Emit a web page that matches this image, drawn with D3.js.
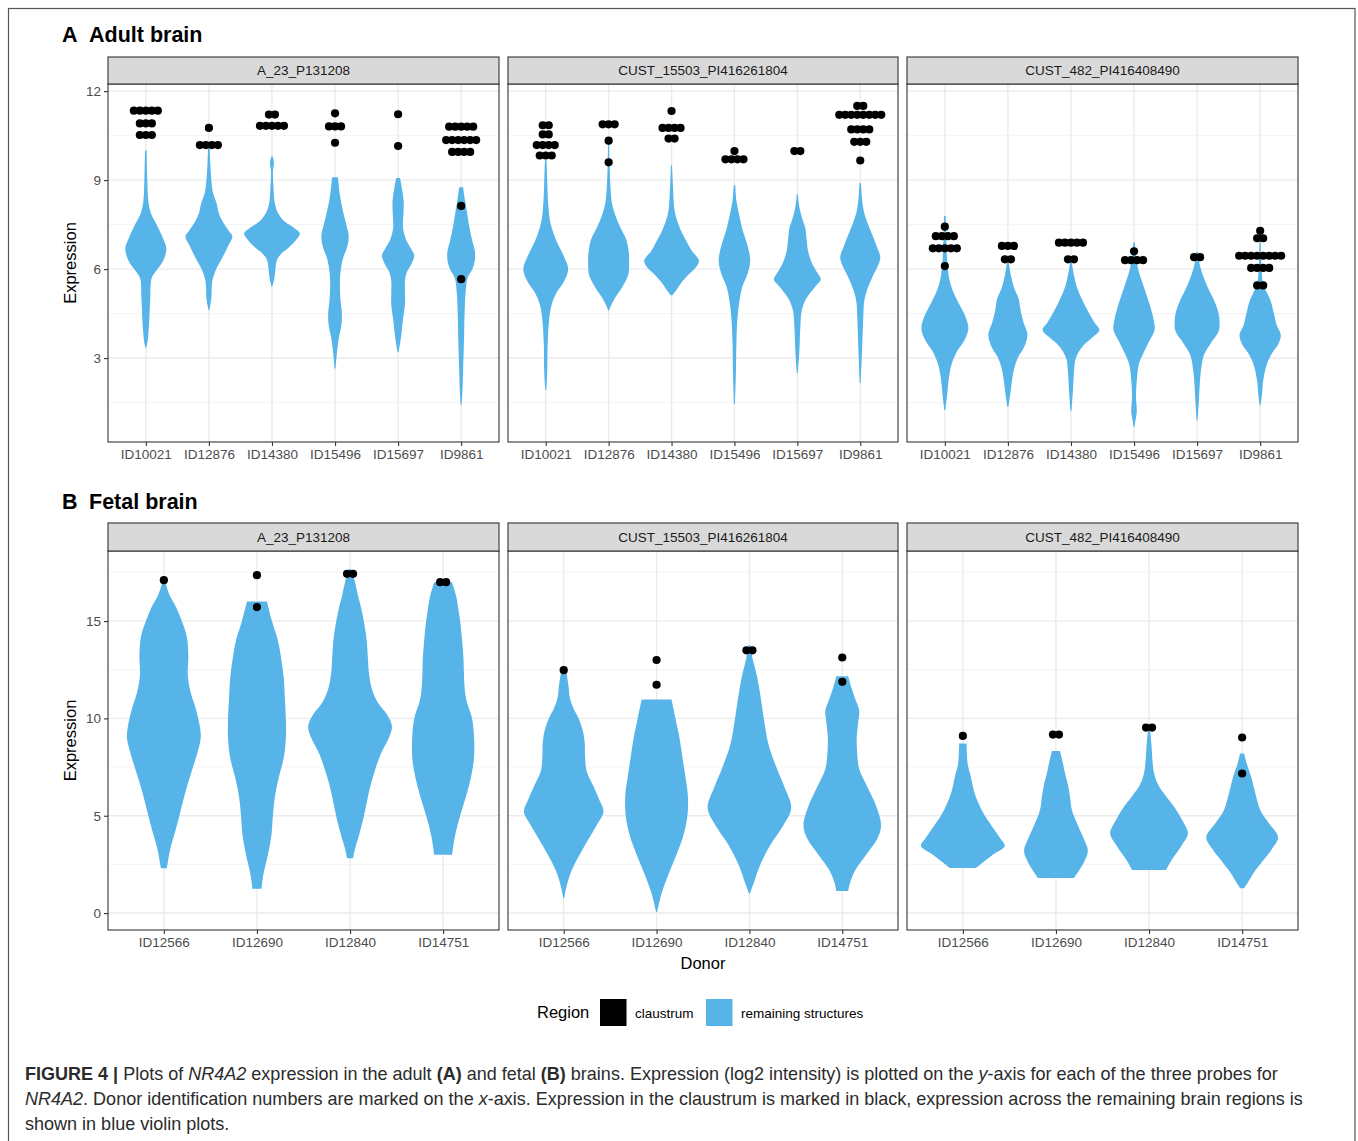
<!DOCTYPE html>
<html>
<head>
<meta charset="utf-8">
<script src="https://cdn.jsdelivr.net/npm/d3@7"></script>
<style>
  body { margin: 0; background: #fff; }
  svg { display: block; font-family: "Liberation Sans", Arial, Helvetica, sans-serif; }
</style>
</head>
<body>
<script>
// ---------------- data ----------------
const probes = ["A_23_P131208", "CUST_15503_PI416261804", "CUST_482_PI416408490"];
const adultDonors = ["ID10021", "ID12876", "ID14380", "ID15496", "ID15697", "ID9861"];
const fetalDonors = ["ID12566", "ID12690", "ID12840", "ID14751"];

const adultTicks = [3, 6, 9, 12];
const adultMinorTicks = [1.5, 4.5, 7.5, 10.5];
const fetalTicks = [0, 5, 10, 15];
const fetalMinorTicks = [2.5, 7.5, 12.5, 17.5];
const adultRange = [0.17, 12.24];
const fetalRange = [-0.87, 18.6];

// Violin profiles for the remaining structures: [expression, density (arb. units)]
const adultP1Violins = [
  [[10.0,0.8],[9.0,1.5],[8.3,2.5],[7.9,5],[7.5,11],[7.0,18],[6.7,21],[6.3,18],[6.0,12],[5.7,6],[5.0,4.5],[4.0,3],[3.5,1.5],[3.35,0.3]],
  [[10.1,0.8],[9.5,1.5],[9.0,2.5],[8.6,4],[8.2,8],[7.9,10],[7.6,14],[7.3,20],[7.1,24],[6.8,20],[6.4,14],[6.0,7.5],[5.6,3.5],[5.0,2.5],[4.6,0.3]],
  [[9.8,0.5],[9.6,2],[9.3,1],[8.8,1.5],[8.2,3],[7.9,6],[7.6,13],[7.4,22],[7.2,28.5],[7.0,25],[6.75,18],[6.5,9],[6.3,5],[6.0,3.5],[5.7,2.5],[5.4,0.3]],
  [[9.1,3],[8.5,5],[7.9,8.5],[7.5,11.5],[7.1,14],[6.7,12],[6.4,8.5],[6.0,6],[5.6,5],[5.0,5.5],[4.5,7],[4.1,6.5],[3.7,4],[3.2,2],[2.65,0.5]],
  [[9.07,2],[8.7,4],[8.3,5.7],[7.9,5.5],[7.4,5],[7.0,8],[6.7,13],[6.45,16.5],[6.2,14],[5.9,9],[5.6,7],[5.2,7],[4.8,7],[4.3,5],[3.7,3],[3.2,0.5]],
  [[8.76,2],[8.3,4],[7.9,6],[7.4,8.5],[7.0,11],[6.6,14],[6.3,14],[6.0,11.5],[5.7,6.5],[5.2,4.5],[4.5,3.5],[3.7,3],[2.6,2],[2.0,1.5],[1.42,0.5]]
];
const adultP2Violins = [
  [[9.67,0.8],[9.0,1.5],[8.2,2.5],[7.6,4.5],[7.2,8],[6.8,13],[6.4,19],[6.0,23],[5.6,19],[5.2,11],[4.8,6],[4.3,3.5],[3.5,2],[2.5,1.5],[1.92,0.5]],
  [[10.25,0.5],[9.5,1],[8.7,2],[8.2,3.5],[7.8,7],[7.4,12],[7.0,18],[6.6,20.5],[6.2,21],[5.8,20],[5.4,14],[5.0,6],[4.7,1.5],[4.6,0.3]],
  [[9.5,0.5],[8.8,1.5],[8.0,3],[7.6,6],[7.2,11],[6.9,16],[6.6,21],[6.3,28],[6.1,26],[5.8,17],[5.5,9],[5.25,4],[5.12,1]],
  [[8.83,0.8],[8.3,2],[7.8,5],[7.3,8.5],[6.9,12.5],[6.5,15.5],[6.2,16],[5.8,13],[5.4,8],[4.9,5],[4.3,3],[3.5,2],[2.5,1.5],[1.45,0.5]],
  [[8.53,0.5],[8.1,2],[7.7,5],[7.4,8],[7.0,9.5],[6.6,11],[6.2,15],[5.9,20],[5.65,24],[5.4,18],[5.0,9],[4.6,4.5],[4.0,3],[3.2,2],[2.5,0.5]],
  [[8.89,0.8],[8.3,2],[7.9,4],[7.5,8],[7.1,13],[6.75,17],[6.4,20.5],[6.1,18],[5.7,12],[5.3,7],[4.9,4],[4.3,3],[3.4,2],[2.16,0.5]]
];
const adultP3Violins = [
  [[7.79,0.8],[7.0,1.5],[6.2,2.5],[5.6,5],[5.2,9],[4.8,15],[4.4,21],[4.0,24],[3.6,20],[3.2,12],[2.8,7],[2.3,4],[1.8,2.5],[1.25,0.5]],
  [[6.24,0.8],[5.8,3],[5.4,6],[5.0,11],[4.6,13],[4.2,16],[3.8,20],[3.4,17],[3.0,10],[2.6,6],[2.2,4],[1.8,2.5],[1.35,0.5]],
  [[6.24,0.8],[5.8,3],[5.4,6],[5.0,11],[4.6,17],[4.2,24],[3.95,29],[3.7,22],[3.4,12],[3.0,5],[2.5,3],[1.9,2],[1.22,0.5]],
  [[6.9,0.8],[6.4,2],[5.9,5],[5.5,9],[5.1,13],[4.7,17],[4.3,20],[3.95,21],[3.6,16],[3.2,10],[2.8,5],[2.3,3],[1.7,2],[1.2,2.8],[0.9,1.5],[0.67,0.5]],
  [[6.58,0.8],[6.1,3],[5.7,7],[5.3,12],[4.9,18],[4.5,22],[4.2,23],[3.9,22],[3.5,14],[3.1,7],[2.6,4],[2.0,2.5],[1.4,1.5],[0.9,0.5]],
  [[7.1,0.5],[6.0,1.5],[5.5,3],[5.2,7],[4.9,11],[4.5,14],[4.1,17],[3.8,21],[3.5,19],[3.1,11],[2.7,6],[2.2,3],[1.8,2],[1.42,0.5]]
];
const fetalP1Violins = [
  [[17.0,1.5],[16.3,6],[15.7,12.5],[15.0,18],[14.2,23],[13.2,24.5],[12.2,24],[11.3,27],[10.5,32],[9.6,36],[9.0,37],[8.3,34],[7.3,28],[6.3,22],[5.3,17],[4.3,12],[3.3,6.5],[2.3,3]],
  [[16.0,10],[15.0,15],[14.0,21],[13.0,24.5],[12.0,27],[11.0,28],[10.0,29],[9.0,29],[8.0,27],[7.0,22],[6.0,18],[5.0,16],[4.0,14.5],[3.0,11],[2.0,6.5],[1.25,4.5]],
  [[17.67,1],[17.0,5],[16.3,8],[15.7,11],[14.8,14.5],[14.0,16.7],[13.0,18],[12.3,19],[11.5,22],[10.8,28],[10.2,37],[9.6,42],[9.0,39],[8.2,31],[7.0,23],[6.0,18],[5.0,14],[4.0,9],[3.3,5],[2.82,3]],
  [[17.0,9],[16.3,13],[15.7,15],[15.0,17],[14.0,19],[13.0,20.5],[12.0,21],[11.0,23],[10.0,29],[9.0,31],[8.0,31],[7.0,28],[6.0,23],[5.0,17],[4.0,12],[3.0,9]]
];
const fetalP2Violins = [
  [[12.3,3],[11.6,5],[11.1,6],[10.5,10],[10.0,15],[9.4,19],[8.8,21],[8.0,21.5],[7.3,23],[6.5,30],[5.8,36],[5.2,40],[4.5,33],[3.8,25],[3.0,16],[2.2,8],[1.4,3],[0.77,0.5]],
  [[10.97,15],[10.0,19],[9.0,23],[8.0,26],[7.0,29],[6.0,31.5],[5.0,31],[4.0,27],[3.0,20],[2.0,12],[1.0,5],[0.05,0.5]],
  [[13.76,1],[13.0,3.5],[12.3,7],[11.5,10],[10.5,13],[9.5,16],[8.6,19.5],[7.5,27],[6.5,35],[5.4,42],[4.5,34],[3.5,21],[2.5,11],[1.5,4],[1.0,0.5]],
  [[12.17,6],[11.6,9],[11.0,13],[10.4,17],[9.8,16],[9.0,14.5],[8.2,15],[7.4,17],[6.5,25],[5.5,34],[4.5,39],[3.8,35],[3.0,24],[2.2,13],[1.5,7.5],[1.13,6]]
];
const fetalP3Violins = [
  [[8.71,3.7],[8.2,4],[7.6,5],[7.0,8],[6.3,11],[5.6,16],[5.0,22],[4.4,30],[3.8,38],[3.45,42],[3.0,30],[2.6,20],[2.31,13]],
  [[8.33,4],[7.7,7],[7.2,9],[6.6,12],[6.0,14],[5.3,16],[4.5,22],[3.8,28],[3.2,32],[2.6,28],[2.1,22],[1.8,18]],
  [[9.4,1],[8.6,2.5],[7.8,3.5],[7.2,5],[6.6,9],[6.0,17],[5.4,26],[4.8,33],[4.1,39],[3.5,33],[2.9,25],[2.5,20],[2.21,17]],
  [[8.2,2],[7.6,5],[7.0,9],[6.4,12],[5.8,15],[5.2,19],[4.6,27],[3.9,36],[3.3,30],[2.7,21],[2.1,12],[1.6,6],[1.28,2]]
];

// Claustrum samples, binned: [expression, number of samples in the bin]
const adultP1Claustrum = [
  [[11.34,5],[10.91,3],[10.52,3]],
  [[10.76,1],[10.18,4]],
  [[11.21,2],[10.83,5]],
  [[11.25,1],[10.81,3],[10.26,1]],
  [[11.22,1],[10.15,1]],
  [[10.8,5],[10.35,6],[9.95,4],[8.13,1],[5.66,1]]
];
const adultP2Claustrum = [
  [[10.85,2],[10.54,2],[10.18,4],[9.83,3]],
  [[10.88,3],[10.33,1],[9.6,1]],
  [[11.33,1],[10.76,4],[10.4,2]],
  [[9.98,1],[9.7,4]],
  [[9.98,2]],
  [[11.5,2],[11.2,8],[10.71,4],[10.29,3],[9.66,1]]
];
const adultP3Claustrum = [
  [[7.43,1],[7.11,4],[6.7,5],[6.1,1]],
  [[6.78,3],[6.33,2]],
  [[6.89,5],[6.33,2]],
  [[6.6,1],[6.3,4]],
  [[6.4,2]],
  [[7.29,1],[7.04,2],[6.45,8],[6.04,4],[5.45,2]]
];
const fetalP1Claustrum = [[[17.1,1]], [[17.36,1],[15.72,1]], [[17.43,2]], [[17.0,2]]];
const fetalP2Claustrum = [[[12.48,1]], [[13.0,1],[11.73,1]], [[13.5,2]], [[13.13,1],[11.88,1]]];
const fetalP3Claustrum = [[[9.1,1]], [[9.17,2]], [[9.53,2]], [[9.02,1],[7.17,1]]];

const regionLabels = ["claustrum", "remaining structures"];

// ---------------- styling / layout ----------------
const W = 1358, H = 1141;
const BLUE = "#56B4E9";
const FONT = '"Liberation Sans", Arial, Helvetica, sans-serif';
const facetSpans = [[108, 499], [508, 898], [907, 1298]];
const dotR = 4.1, dotStep = 6;

const svg = d3.select("body").append("svg")
  .attr("width", W).attr("height", H)
  .attr("font-family", FONT);

svg.append("rect").attr("width", W).attr("height", H).attr("fill", "#fff");
// figure frame
svg.append("rect")
  .attr("x", 8.5).attr("y", 8.5).attr("width", 1346.5).attr("height", 1200)
  .attr("fill", "none").attr("stroke", "#555").attr("stroke-width", 1.2);

function drawSection(o) {
  const y = d3.scaleLinear().domain(o.yDomain).range([o.plotBottom, o.plotTop]);

  // section heading
  const head = svg.append("text").attr("y", o.titleY)
    .attr("font-size", 21.5).attr("font-weight", "bold").attr("fill", "#000");
  head.append("tspan").attr("x", 62).text(o.letter);
  head.append("tspan").attr("x", 89).text(o.name);

  facetSpans.forEach(([x0, x1], i) => {
    const x = d3.scalePoint().domain(o.donors).range([x0, x1]).padding(0.6);
    const w = d3.scaleLinear().domain([0, o.densMax]).range([0, 0.45 * x.step()]);
    const g = svg.append("g");

    g.append("rect").attr("x", x0).attr("y", o.plotTop)
      .attr("width", x1 - x0).attr("height", o.plotBottom - o.plotTop).attr("fill", "#fff");

    // grid
    g.selectAll(".minor").data(o.minor).join("line")
      .attr("x1", x0).attr("x2", x1).attr("y1", d => y(d)).attr("y2", d => y(d))
      .attr("stroke", "#F2F2F2").attr("stroke-width", 0.8);
    g.selectAll(".major").data(o.ticks).join("line")
      .attr("x1", x0).attr("x2", x1).attr("y1", d => y(d)).attr("y2", d => y(d))
      .attr("stroke", "#EBEBEB").attr("stroke-width", 1.4);
    g.selectAll(".vgrid").data(o.donors).join("line")
      .attr("x1", d => x(d)).attr("x2", d => x(d)).attr("y1", o.plotTop).attr("y2", o.plotBottom)
      .attr("stroke", "#EBEBEB").attr("stroke-width", 1.4);

    // violins
    o.violins[i].forEach((prof, j) => {
      const cx = x(o.donors[j]);
      const area = d3.area()
        .curve(d3.curveCatmullRom.alpha(0.5))
        .y(d => y(d[0]))
        .x0(d => cx - w(d[1]))
        .x1(d => cx + w(d[1]));
      g.append("path").attr("d", area(prof)).attr("fill", BLUE);
    });

    // claustrum dots
    o.dots[i].forEach((bins, j) => {
      const cx = x(o.donors[j]);
      bins.forEach(([v, n]) => {
        d3.range(n).forEach(k => {
          g.append("circle")
            .attr("cx", cx + (k - (n - 1) / 2) * dotStep)
            .attr("cy", y(v)).attr("r", dotR).attr("fill", "#000");
        });
      });
    });

    // panel border
    g.append("rect").attr("x", x0).attr("y", o.plotTop)
      .attr("width", x1 - x0).attr("height", o.plotBottom - o.plotTop)
      .attr("fill", "none").attr("stroke", "#333").attr("stroke-width", 1.1);

    // strip
    g.append("rect").attr("x", x0).attr("y", o.stripTop)
      .attr("width", x1 - x0).attr("height", o.plotTop - o.stripTop)
      .attr("fill", "#D9D9D9").attr("stroke", "#333").attr("stroke-width", 1.1);
    g.append("text").attr("x", (x0 + x1) / 2).attr("y", (o.stripTop + o.plotTop) / 2)
      .attr("dy", "0.36em").attr("text-anchor", "middle")
      .attr("font-size", 13.5).attr("fill", "#1A1A1A").text(probes[i]);

    // x axis
    const xa = g.append("g").attr("transform", `translate(0,${o.plotBottom})`)
      .call(d3.axisBottom(x).tickSize(4).tickPadding(3));
    xa.select(".domain").remove();
    xa.selectAll(".tick line").attr("stroke", "#333").attr("stroke-width", 1.1);
    xa.selectAll(".tick text").attr("font-size", 13.5).attr("font-family", FONT).attr("fill", "#4D4D4D");

    if (i === 0) {
      const ya = g.append("g").attr("transform", `translate(${x0},0)`)
        .call(d3.axisLeft(y).tickValues(o.ticks).tickSize(4).tickPadding(3));
      ya.select(".domain").remove();
      ya.selectAll(".tick line").attr("stroke", "#333").attr("stroke-width", 1.1);
      ya.selectAll(".tick text").attr("font-size", 13.5).attr("font-family", FONT).attr("fill", "#4D4D4D");
    }
  });

  svg.append("text")
    .attr("transform", `translate(76,${(o.plotTop + o.plotBottom) / 2}) rotate(-90)`)
    .attr("text-anchor", "middle").attr("font-size", 16.5).attr("fill", "#000")
    .text("Expression");
}

drawSection({
  letter: "A", name: "Adult brain", titleY: 42,
  donors: adultDonors,
  violins: [adultP1Violins, adultP2Violins, adultP3Violins],
  dots: [adultP1Claustrum, adultP2Claustrum, adultP3Claustrum],
  yDomain: adultRange, ticks: adultTicks, minor: adultMinorTicks,
  stripTop: 57, plotTop: 84, plotBottom: 442, densMax: 29
});

drawSection({
  letter: "B", name: "Fetal brain", titleY: 509,
  donors: fetalDonors,
  violins: [fetalP1Violins, fetalP2Violins, fetalP3Violins],
  dots: [fetalP1Claustrum, fetalP2Claustrum, fetalP3Claustrum],
  yDomain: fetalRange, ticks: fetalTicks, minor: fetalMinorTicks,
  stripTop: 523, plotTop: 551, plotBottom: 930, densMax: 42
});

// x axis title
svg.append("text").attr("x", (facetSpans[0][0] + facetSpans[2][1]) / 2).attr("y", 969)
  .attr("text-anchor", "middle").attr("font-size", 16.5).attr("fill", "#000").text("Donor");

// legend
const legend = svg.append("g");
legend.append("text").attr("x", 537).attr("y", 1018).attr("font-size", 16.5).attr("fill", "#000").text("Region");
const keyColors = ["#000", BLUE];
const keyX = [600, 706], labelX = [635, 741];
regionLabels.forEach((lab, i) => {
  legend.append("rect").attr("x", keyX[i]).attr("y", 999).attr("width", 26.5).attr("height", 27)
    .attr("fill", keyColors[i]);
  legend.append("text").attr("x", labelX[i]).attr("y", 1017.5).attr("font-size", 13.5)
    .attr("fill", "#000").text(lab);
});

// caption
const captionLines = [
  [["FIGURE 4 |", "b"], [" Plots of ", ""], ["NR4A2", "i"], [" expression in the adult ", ""], ["(A)", "b"],
   [" and fetal ", ""], ["(B)", "b"], [" brains. Expression (log2 intensity) is plotted on the ", ""], ["y", "i"],
   ["-axis for each of the three probes for", ""]],
  [["NR4A2", "i"], [". Donor identification numbers are marked on the ", ""], ["x", "i"],
   ["-axis. Expression in the claustrum is marked in black, expression across the remaining brain regions is", ""]],
  [["shown in blue violin plots.", ""]]
];
const capBase = [1080, 1105, 1130];
const capNodes = captionLines.map((parts, li) => {
  const t = svg.append("text").attr("font-size", 18).attr("fill", "#2b2b2b")
    .style("white-space", "pre").attr("transform", `translate(25,${capBase[li]})`);
  parts.forEach(([s, st]) => {
    const ts = t.append("tspan").text(s);
    if (st === "b") ts.attr("font-weight", "bold");
    if (st === "i") ts.attr("font-style", "italic");
  });
  return t;
});
const len1 = capNodes[0].node().getComputedTextLength();
const sx = 1254 / len1;
capNodes.forEach((t, li) => t.attr("transform", `translate(25,${capBase[li]}) scale(${sx},1)`));
</script>
</body>
</html>
